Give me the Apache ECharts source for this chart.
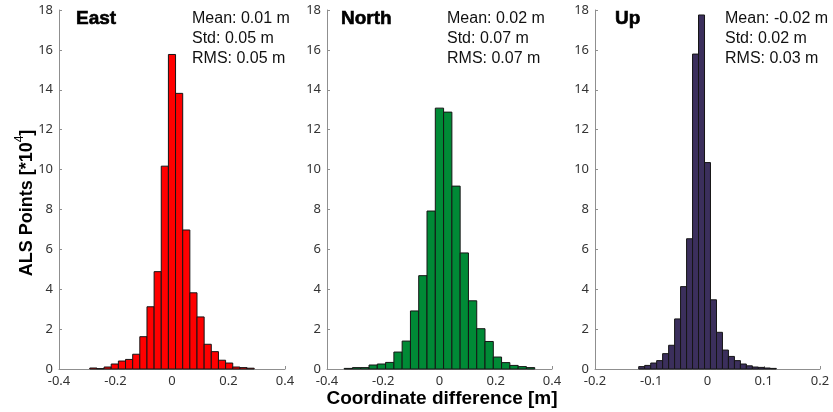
<!DOCTYPE html>
<html>
<head>
<meta charset="utf-8">
<script src="https://cdn.jsdelivr.net/npm/echarts@6/dist/echarts.min.js"></script>
<style>
  html, body { margin: 0; padding: 0; background: #fff; }
  #chart { width: 833px; height: 412px; }
</style>
</head>
<body>
<div id="chart"></div>
<script>
// Histogram bin edges (m) and counts (x10^4 points) for each component
const eastEdges = [-0.291, -0.2657, -0.2404, -0.2151, -0.1898, -0.1645, -0.1392, -0.1139,
  -0.0886, -0.0633, -0.038, -0.0127, 0.0126, 0.0379, 0.0632, 0.0885, 0.1138, 0.1391,
  0.1644, 0.1897, 0.215, 0.2403, 0.2656, 0.2909];
const eastCounts = [0.05, 0.02, 0.1, 0.25, 0.4, 0.48, 0.74, 1.62, 3.12, 4.88, 10.17, 15.77,
  13.82, 6.97, 3.82, 2.61, 1.24, 0.87, 0.44, 0.3, 0.1, 0.07, 0.04];

const northEdges = [-0.339, -0.3095, -0.2801, -0.2506, -0.2212, -0.1917, -0.1622, -0.1328,
  -0.1033, -0.0739, -0.0444, -0.0149, 0.0145, 0.044, 0.0734, 0.1029, 0.1324, 0.1618,
  0.1913, 0.2207, 0.2502, 0.2797, 0.3091, 0.3386];
const northCounts = [0.03, 0.07, 0.07, 0.2, 0.25, 0.33, 0.85, 1.4, 2.91, 4.68, 7.92, 13.08,
  12.88, 9.17, 5.82, 3.42, 2.02, 1.38, 0.6, 0.32, 0.18, 0.12, 0.07];

const upEdges = [-0.1223, -0.1117, -0.101, -0.0904, -0.0798, -0.0691, -0.0585, -0.0479,
  -0.0372, -0.0266, -0.016, -0.0053, 0.0053, 0.016, 0.0266, 0.0372, 0.0479, 0.0585,
  0.0691, 0.0798, 0.0904, 0.101, 0.1117, 0.1223];
const upCounts = [0.12, 0.18, 0.3, 0.42, 0.77, 1.19, 2.51, 4.13, 6.53, 15.79, 17.75, 10.35,
  3.47, 1.84, 0.95, 0.63, 0.42, 0.25, 0.16, 0.1, 0.08, 0.05, 0.03];

const panelNames = ['East', 'North', 'Up'];
const panelStats = [
  ['Mean: 0.01 m', 'Std: 0.05 m', 'RMS: 0.05 m'],
  ['Mean: 0.02 m', 'Std: 0.07 m', 'RMS: 0.07 m'],
  ['Mean: -0.02 m', 'Std: 0.02 m', 'RMS: 0.03 m']
];
const xRanges = [[-0.4, 0.4, 0.2], [-0.4, 0.4, 0.2], [-0.2, 0.2, 0.1]];
const yRange = [0, 18, 2];
const yAxisTitle = 'ALS Points [*10';
const yAxisExp = '4';
const xAxisTitle = 'Coordinate difference [m]';

const barColors = ['#ff0000', '#008a36', '#3b2f5c'];
const gridLefts = [59, 327, 595];
const gridWidths = [226, 225, 225];
const titleX = [76, 341, 615];
const statsX = [192, 447, 725];

const histograms = [
  [eastEdges, eastCounts],
  [northEdges, northCounts],
  [upEdges, upCounts]
];

function binData(edges, counts) {
  return counts.map((c, i) => [edges[i], edges[i + 1], c]);
}

function makeRenderer(color) {
  return function (params, api) {
    const x0 = api.value(0), x1 = api.value(1), h = api.value(2);
    const pTop = api.coord([x0, h]);
    const pBot = api.coord([x1, 0]);
    return {
      type: 'rect',
      shape: { x: pTop[0], y: pTop[1], width: pBot[0] - pTop[0], height: pBot[1] - pTop[1] },
      style: { fill: color, stroke: '#151515', lineWidth: 1 }
    };
  };
}

const axisGray = '#8f8f8f';
const tickFont = { fontFamily: 'Noto Sans', fontSize: 13, color: '#333' };

const grids = [], xAxes = [], yAxes = [], series = [], graphics = [];
for (let i = 0; i < 3; i++) {
  grids.push({ left: gridLefts[i], top: 10, width: gridWidths[i], height: 359 });
  xAxes.push({
    type: 'value', gridIndex: i,
    min: xRanges[i][0], max: xRanges[i][1], interval: xRanges[i][2],
    axisLine: { show: true, onZero: false, lineStyle: { color: axisGray, width: 1 } },
    axisTick: { show: true, inside: true, length: 3, lineStyle: { color: axisGray } },
    splitLine: { show: false },
    axisLabel: Object.assign({ margin: 6 }, tickFont)
  });
  yAxes.push({
    type: 'value', gridIndex: i,
    min: yRange[0], max: yRange[1], interval: yRange[2],
    axisLine: { show: true, onZero: false, lineStyle: { color: axisGray, width: 1 } },
    axisTick: { show: true, inside: true, length: 3, lineStyle: { color: axisGray } },
    splitLine: { show: false },
    axisLabel: Object.assign({ margin: 6 }, tickFont)
  });
  series.push({
    type: 'custom', xAxisIndex: i, yAxisIndex: i,
    renderItem: makeRenderer(barColors[i]),
    encode: { x: [0, 1], y: 2 },
    data: binData(histograms[i][0], histograms[i][1]),
    silent: true
  });
  graphics.push({
    type: 'text', x: titleX[i], y: 19,
    style: {
      text: panelNames[i], fill: '#000', stroke: '#000', lineWidth: 0.6,
      font: '900 19px "Liberation Sans", Arial, sans-serif',
      align: 'left', verticalAlign: 'middle'
    }
  });
  graphics.push({
    type: 'text', x: statsX[i], y: 9,
    style: {
      text: panelStats[i].join('\n'), fill: '#111',
      font: '16px "Liberation Sans", Arial, sans-serif',
      lineHeight: 20, align: 'left', verticalAlign: 'top'
    }
  });
}

graphics.push({
  type: 'text', x: 25, y: 203, rotation: Math.PI / 2,
  style: {
    text: '{a|' + yAxisTitle + '}{s|' + yAxisExp + '}{a|]}',
    align: 'center', verticalAlign: 'middle',
    rich: {
      a: { fontFamily: 'Liberation Sans', fontWeight: 'bold', fontSize: 18, fill: '#000', verticalAlign: 'bottom', lineHeight: 22 },
      s: { fontFamily: 'Liberation Sans', fontSize: 12, fill: '#000', verticalAlign: 'top', lineHeight: 22 }
    }
  }
});
graphics.push({
  type: 'text', x: 442, y: 399,
  style: {
    text: xAxisTitle, fill: '#000',
    font: 'bold 19px "Liberation Sans", Arial, sans-serif',
    align: 'center', verticalAlign: 'middle'
  }
});

const chart = echarts.init(document.getElementById('chart'), null, { renderer: 'canvas' });
chart.setOption({
  animation: false,
  backgroundColor: '#fff',
  grid: grids,
  xAxis: xAxes,
  yAxis: yAxes,
  series: series,
  graphic: graphics
});
</script>
</body>
</html>
